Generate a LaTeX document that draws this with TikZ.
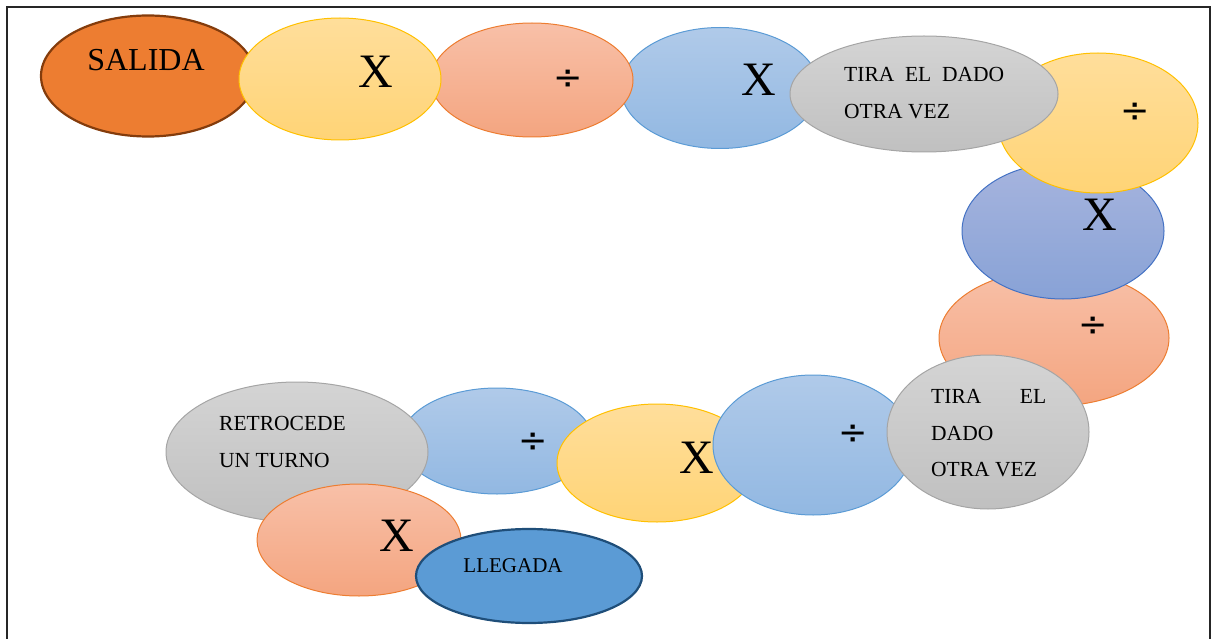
\documentclass[tikz,border=0pt]{standalone}
\usepackage{fontspec}
\setmainfont{Liberation Serif}
\newfontfamily\divfont{DejaVu Sans}
\usetikzlibrary{shapes.geometric}
\definecolor{yelT}{RGB}{255,222,155}
\definecolor{yelB}{RGB}{255,212,118}
\definecolor{yelD}{RGB}{255,192,0}
\definecolor{salT}{RGB}{248,192,168}
\definecolor{salB}{RGB}{244,165,128}
\definecolor{salD}{RGB}{237,125,49}
\definecolor{bluT}{RGB}{176,202,233}
\definecolor{bluB}{RGB}{146,184,226}
\definecolor{bluD}{RGB}{91,155,213}
\definecolor{purT}{RGB}{166,180,222}
\definecolor{purB}{RGB}{136,162,214}
\definecolor{purD}{RGB}{68,114,196}
\definecolor{gryT}{RGB}{212,212,212}
\definecolor{gryB}{RGB}{192,192,192}
\definecolor{gryD}{RGB}{165,165,165}
\definecolor{startF}{RGB}{237,125,49}
\definecolor{startD}{RGB}{132,60,12}
\definecolor{endF}{RGB}{91,155,213}
\definecolor{endD}{RGB}{31,78,121}
\tikzset{
  oval/.style={ellipse, inner sep=0pt, line width=1pt},
  yel/.style={oval, top color=yelT, bottom color=yelB, draw=yelD},
  sal/.style={oval, top color=salT, bottom color=salB, draw=salD},
  blu/.style={oval, top color=bluT, bottom color=bluB, draw=bluD},
  pur/.style={oval, top color=purT, bottom color=purB, draw=purD},
  gry/.style={oval, top color=gryT, bottom color=gryB, draw=gryD},
  startoval/.style={oval, fill=startF, draw=startD, line width=2.2pt},
  endoval/.style={oval, fill=endF, draw=endD, line width=2.2pt},
  bigx/.style={inner sep=0pt, font=\fontsize{48}{50}\selectfont},
  divs/.style={inner sep=0pt, font=\divfont\fontsize{35}{37}\selectfont},
  lbl/.style={inner sep=0pt, font=\fontsize{21.5}{36.8}\selectfont, align=left, anchor=north west},
}
\begin{document}
\begin{tikzpicture}[x=1pt,y=-1pt]
\useasboundingbox (0,0) rectangle (1212,639);
\draw[line width=2pt, black!85] (7,639) -- (7,7) -- (1210,7) -- (1210,639);
% top row
\node[blu, minimum width=198pt, minimum height=121pt] (b1) at (720,88) {};
\node[sal, minimum width=202pt, minimum height=114pt] (s1) at (532,80) {};
\node[startoval, minimum width=214pt, minimum height=121pt] (start) at (148,76) {};
\node[yel, minimum width=202pt, minimum height=122pt] (y1) at (340,79) {};
% right column
\node[sal, minimum width=230pt, minimum height=136pt] (s3) at (1054,338) {};
\node[pur, minimum width=202pt, minimum height=136pt] (p1) at (1063,231) {};
\node[yel, minimum width=200pt, minimum height=140pt] (y2) at (1098,123) {};
\node[gry, minimum width=268pt, minimum height=116pt] (g1) at (924,94) {};
% bottom row
\node[blu, minimum width=192pt, minimum height=106pt] (b3) at (497,441) {};
\node[yel, minimum width=200pt, minimum height=118pt] (y3) at (657,463) {};
\node[blu, minimum width=200pt, minimum height=140pt] (b2) at (813,445) {};
\node[gry, minimum width=202pt, minimum height=154pt] (g2) at (988,432) {};
\node[gry, minimum width=262pt, minimum height=140pt] (g3) at (297,452) {};
\node[sal, minimum width=204pt, minimum height=112pt] (s4) at (359,540) {};
\node[endoval, minimum width=226pt, minimum height=94pt] (fin) at (529,576) {};
% texts
\node[inner sep=0pt, font=\fontsize{32}{34}\selectfont] (tstart) at (146,60) {SALIDA};
\node[bigx] (ty1) at (376,72) {X};
\node[divs] (ts1) at (568,80) {÷};
\node[bigx] (tb1) at (759,80) {X};
\node[lbl] (tg1) at (844,67) {\makebox[160pt][s]{TIRA EL DADO}\\OTRA VEZ};
\node[divs] (ty2) at (1135,113) {÷};
\node[bigx] (tp1) at (1100,215) {X};
\node[divs] (ts3) at (1093,327) {÷};
\node[lbl] (tg2) at (931,389) {\makebox[115pt][s]{TIRA EL}\\DADO\\OTRA VEZ};
\node[divs] (tb2) at (853,435) {÷};
\node[bigx] (ty3) at (697,458) {X};
\node[divs] (tb3) at (533,443) {÷};
\node[lbl] (tg3) at (219,416) {RETROCEDE\\UN TURNO};
\node[bigx] (ts4) at (397,536) {X};
\node[inner sep=0pt, font=\fontsize{21}{23}\selectfont] (tfin) at (513,566) {LLEGADA};
\end{tikzpicture}
\end{document}
